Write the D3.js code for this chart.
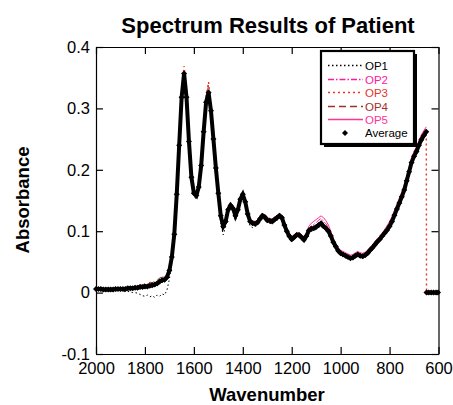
<!DOCTYPE html>
<html>
<meta charset="utf-8">
<title>Spectrum Results of Patient</title>
<script src="https://d3js.org/d3.v7.min.js"></script>
<style>
	body { margin: 0; background: #fff; }
	svg text { font-family: Arial, "Liberation Sans", Helvetica, sans-serif; }
</style>
<body>
<svg id="chart" width="453" height="405"></svg>

<script type="text/javascript">

// wavenumber grid, 2000 -> 650 every 10 cm-1
var wavenumbers = d3.range(2000, 649, -10);
// zero tail after the cut-off at 650 (only OP3 and the average carry it)
var tailWavenumbers = [649, 640, 630, 620, 610, 602];
var tailAbsorbance = [0, 0, 0, 0, 0, 0];

var op1 = [
	0.004, 0.004, 0.003, 0.003, 0.003, 0.003, 0.002, 0.002, 0.003, 0.003,
	0.003, 0.002, 0.002, 0.002, 0.001, 0.000, 0.000, -0.001, -0.003, -0.005,
	-0.006, -0.004, -0.007, -0.005, -0.008, -0.004, -0.006, -0.002, -0.004, 0.004,
	0.022, 0.050, 0.090, 0.155, 0.236, 0.315, 0.352, 0.313, 0.240, 0.182,
	0.156, 0.152, 0.167, 0.203, 0.258, 0.306, 0.322, 0.291, 0.244, 0.196,
	0.152, 0.112, 0.094, 0.108, 0.130, 0.138, 0.132, 0.117, 0.130, 0.148,
	0.156, 0.143, 0.122, 0.108, 0.106, 0.107, 0.110, 0.116, 0.121, 0.119,
	0.114, 0.113, 0.112, 0.115, 0.118, 0.121, 0.118, 0.105, 0.095, 0.087,
	0.083, 0.086, 0.090, 0.090, 0.086, 0.082, 0.088, 0.097, 0.100, 0.101,
	0.103, 0.106, 0.108, 0.104, 0.101, 0.096, 0.088, 0.078, 0.071, 0.065,
	0.061, 0.059, 0.057, 0.055, 0.053, 0.054, 0.057, 0.059, 0.057, 0.056,
	0.058, 0.061, 0.066, 0.070, 0.075, 0.080, 0.084, 0.089, 0.094, 0.099,
	0.105, 0.113, 0.123, 0.133, 0.143, 0.153, 0.164, 0.179, 0.194, 0.209,
	0.219, 0.227, 0.237, 0.246, 0.253, 0.259
];
var op2 = [
	0.007, 0.007, 0.007, 0.006, 0.006, 0.006, 0.006, 0.006, 0.007, 0.007,
	0.007, 0.007, 0.007, 0.008, 0.008, 0.008, 0.009, 0.009, 0.010, 0.010,
	0.011, 0.011, 0.012, 0.013, 0.014, 0.016, 0.019, 0.021, 0.022, 0.027,
	0.038, 0.060, 0.098, 0.163, 0.243, 0.321, 0.360, 0.321, 0.249, 0.191,
	0.165, 0.161, 0.175, 0.210, 0.265, 0.313, 0.329, 0.299, 0.253, 0.206,
	0.165, 0.128, 0.111, 0.119, 0.138, 0.145, 0.140, 0.128, 0.138, 0.155,
	0.163, 0.151, 0.131, 0.119, 0.116, 0.115, 0.117, 0.123, 0.128, 0.126,
	0.121, 0.120, 0.119, 0.122, 0.125, 0.128, 0.125, 0.113, 0.103, 0.095,
	0.090, 0.093, 0.097, 0.097, 0.093, 0.089, 0.095, 0.105, 0.109, 0.111,
	0.114, 0.118, 0.121, 0.116, 0.112, 0.106, 0.097, 0.086, 0.078, 0.071,
	0.067, 0.065, 0.063, 0.061, 0.059, 0.060, 0.063, 0.065, 0.063, 0.062,
	0.064, 0.067, 0.072, 0.076, 0.081, 0.086, 0.090, 0.095, 0.100, 0.106,
	0.112, 0.120, 0.130, 0.140, 0.150, 0.160, 0.171, 0.186, 0.201, 0.216,
	0.226, 0.234, 0.244, 0.253, 0.261, 0.267
];
var op3 = [
	0.006, 0.007, 0.006, 0.006, 0.005, 0.006, 0.005, 0.006, 0.007, 0.006,
	0.007, 0.006, 0.007, 0.008, 0.008, 0.007, 0.009, 0.009, 0.010, 0.011,
	0.012, 0.011, 0.013, 0.014, 0.015, 0.017, 0.020, 0.022, 0.024, 0.028,
	0.040, 0.062, 0.099, 0.165, 0.247, 0.327, 0.369, 0.326, 0.252, 0.192,
	0.164, 0.159, 0.174, 0.211, 0.268, 0.320, 0.343, 0.304, 0.254, 0.205,
	0.163, 0.126, 0.109, 0.118, 0.137, 0.145, 0.139, 0.126, 0.137, 0.155,
	0.163, 0.150, 0.129, 0.117, 0.114, 0.113, 0.115, 0.121, 0.126, 0.124,
	0.119, 0.118, 0.117, 0.120, 0.123, 0.126, 0.123, 0.111, 0.101, 0.093,
	0.088, 0.091, 0.095, 0.095, 0.091, 0.087, 0.093, 0.102, 0.105, 0.106,
	0.108, 0.111, 0.114, 0.109, 0.106, 0.101, 0.093, 0.083, 0.076, 0.069,
	0.065, 0.063, 0.061, 0.059, 0.057, 0.058, 0.061, 0.063, 0.061, 0.060,
	0.062, 0.065, 0.070, 0.074, 0.079, 0.084, 0.088, 0.093, 0.098, 0.103,
	0.109, 0.117, 0.127, 0.137, 0.147, 0.157, 0.168, 0.183, 0.198, 0.213,
	0.223, 0.231, 0.241, 0.250, 0.257, 0.263
];
var op4 = [
	0.007, 0.006, 0.007, 0.006, 0.006, 0.006, 0.006, 0.006, 0.007, 0.007,
	0.008, 0.007, 0.008, 0.009, 0.008, 0.009, 0.011, 0.010, 0.013, 0.012,
	0.015, 0.013, 0.017, 0.016, 0.019, 0.020, 0.024, 0.025, 0.026, 0.030,
	0.040, 0.061, 0.097, 0.162, 0.243, 0.322, 0.365, 0.322, 0.249, 0.190,
	0.163, 0.158, 0.173, 0.209, 0.265, 0.316, 0.338, 0.300, 0.252, 0.204,
	0.162, 0.124, 0.107, 0.116, 0.135, 0.142, 0.137, 0.125, 0.135, 0.152,
	0.160, 0.148, 0.128, 0.116, 0.113, 0.112, 0.114, 0.120, 0.125, 0.123,
	0.118, 0.117, 0.116, 0.119, 0.122, 0.125, 0.122, 0.110, 0.100, 0.092,
	0.087, 0.090, 0.094, 0.094, 0.090, 0.086, 0.092, 0.101, 0.104, 0.105,
	0.107, 0.110, 0.113, 0.108, 0.105, 0.100, 0.092, 0.082, 0.075, 0.068,
	0.063, 0.061, 0.059, 0.057, 0.055, 0.056, 0.059, 0.061, 0.059, 0.058,
	0.060, 0.063, 0.068, 0.072, 0.077, 0.082, 0.086, 0.091, 0.096, 0.101,
	0.107, 0.115, 0.125, 0.135, 0.145, 0.155, 0.166, 0.181, 0.196, 0.211,
	0.221, 0.229, 0.239, 0.248, 0.255, 0.261
];
var op5 = [
	0.007, 0.007, 0.007, 0.006, 0.006, 0.006, 0.006, 0.006, 0.007, 0.007,
	0.007, 0.007, 0.007, 0.008, 0.008, 0.008, 0.009, 0.009, 0.010, 0.010,
	0.011, 0.011, 0.012, 0.013, 0.014, 0.016, 0.019, 0.021, 0.022, 0.026,
	0.037, 0.059, 0.097, 0.162, 0.242, 0.320, 0.359, 0.320, 0.248, 0.190,
	0.164, 0.160, 0.174, 0.209, 0.264, 0.312, 0.328, 0.298, 0.252, 0.205,
	0.165, 0.129, 0.113, 0.121, 0.140, 0.147, 0.142, 0.130, 0.139, 0.156,
	0.164, 0.152, 0.132, 0.120, 0.117, 0.116, 0.118, 0.124, 0.129, 0.127,
	0.122, 0.121, 0.120, 0.123, 0.126, 0.129, 0.126, 0.114, 0.104, 0.096,
	0.091, 0.094, 0.098, 0.098, 0.094, 0.090, 0.097, 0.108, 0.113, 0.116,
	0.119, 0.122, 0.125, 0.122, 0.117, 0.110, 0.100, 0.088, 0.080, 0.073,
	0.069, 0.067, 0.065, 0.063, 0.061, 0.062, 0.065, 0.067, 0.065, 0.064,
	0.066, 0.069, 0.074, 0.078, 0.083, 0.088, 0.092, 0.097, 0.103, 0.109,
	0.116, 0.124, 0.134, 0.144, 0.154, 0.164, 0.175, 0.190, 0.205, 0.220,
	0.230, 0.238, 0.248, 0.257, 0.264, 0.270
];
var average = [
	0.006, 0.006, 0.006, 0.005, 0.005, 0.005, 0.005, 0.005, 0.006, 0.006,
	0.006, 0.006, 0.006, 0.007, 0.007, 0.007, 0.008, 0.008, 0.009, 0.009,
	0.010, 0.010, 0.011, 0.012, 0.013, 0.015, 0.018, 0.020, 0.021, 0.025,
	0.036, 0.058, 0.095, 0.160, 0.240, 0.318, 0.357, 0.318, 0.246, 0.188,
	0.162, 0.158, 0.172, 0.207, 0.262, 0.310, 0.326, 0.296, 0.250, 0.203,
	0.162, 0.125, 0.108, 0.116, 0.135, 0.142, 0.137, 0.125, 0.135, 0.152,
	0.160, 0.148, 0.128, 0.116, 0.113, 0.112, 0.114, 0.120, 0.125, 0.123,
	0.118, 0.117, 0.116, 0.119, 0.122, 0.125, 0.122, 0.110, 0.100, 0.092,
	0.087, 0.090, 0.094, 0.094, 0.090, 0.086, 0.092, 0.101, 0.104, 0.105,
	0.107, 0.110, 0.113, 0.108, 0.105, 0.100, 0.092, 0.082, 0.075, 0.068,
	0.064, 0.062, 0.060, 0.058, 0.056, 0.057, 0.060, 0.062, 0.060, 0.059,
	0.061, 0.064, 0.069, 0.073, 0.078, 0.083, 0.087, 0.092, 0.097, 0.102,
	0.108, 0.116, 0.126, 0.136, 0.146, 0.156, 0.167, 0.182, 0.197, 0.212,
	0.222, 0.230, 0.240, 0.249, 0.256, 0.262
];

var seriesNames = ["OP1", "OP2", "OP3", "OP4", "OP5"];
var seriesColors = ["#000000", "#ff1a9c", "#e8352b", "#a0302d", "#ff3399"];
var seriesDashes = ["1.5,2.5", "6,2,1.5,2", "2,3", "7,4", null];
var seriesHasTail = [false, false, true, false, false];

var xTicks = [2000, 1800, 1600, 1400, 1200, 1000, 800, 600];
var yTicks = [-0.1, 0, 0.1, 0.2, 0.3, 0.4];
var yTickLabels = ["-0.1", "0", "0.1", "0.2", "0.3", "0.4"];

var svg = d3.select("#chart");
var plotLeft = 96, plotRight = 438.5, plotTop = 47, plotBottom = 354;

var x = d3.scaleLinear().domain([2000, 600]).range([plotLeft, plotRight]);
var y = d3.scaleLinear().domain([-0.1, 0.4]).range([plotBottom, plotTop]);

function toPoints(vals, withTail) {
	var pts = wavenumbers.map(function(w, i){ return [w, vals[i]]; });
	if (withTail) {
		tailWavenumbers.forEach(function(w, i){ pts.push([w, tailAbsorbance[i]]); });
	}
	return pts;
}

var line = d3.line()
	.x(function(d){ return x(d[0]); })
	.y(function(d){ return y(d[1]); });

// draw order puts the dotted red one on top
var allOps = [op1, op2, op3, op4, op5];
var drawOrder = [4, 1, 3, 0, 2];
drawOrder.forEach(function(i){
	svg.append("path")
		.datum(toPoints(allOps[i], seriesHasTail[i]))
		.attr("d", line)
		.attr("fill", "none")
		.attr("stroke", seriesColors[i])
		.attr("stroke-width", i == 2 ? 1.4 : 1)
		.attr("stroke-dasharray", seriesDashes[i]);
});

// average: thick trace + diamond markers (trace broken at the cut-off)
var avgMain = toPoints(average, false);
var avgTail = tailWavenumbers.map(function(w, i){ return [w, tailAbsorbance[i]]; });
[avgMain, avgTail].forEach(function(pts){
	svg.append("path")
		.datum(pts)
		.attr("d", line)
		.attr("fill", "none")
		.attr("stroke", "#000")
		.attr("stroke-width", 4);
});
var diamond = d3.symbol().type(d3.symbolSquare).size(18);
svg.append("g").selectAll("path")
	.data(avgMain.concat(avgTail))
	.enter().append("path")
	.attr("d", diamond)
	.attr("transform", function(d){ return "translate(" + x(d[0]) + "," + y(d[1]) + ") rotate(45)"; })
	.attr("fill", "#000");

// frame with inward ticks on all four sides
function styleAxis(g) {
	g.selectAll(".domain").attr("stroke", "#000").attr("stroke-width", 1.2);
	g.selectAll(".tick line").attr("stroke", "#000").attr("stroke-width", 1.2);
	g.selectAll(".tick text").attr("fill", "#000").style("font-size", "16.5px");
}
svg.append("g").attr("transform", "translate(0," + plotBottom + ")")
	.call(d3.axisBottom(x).tickValues(xTicks).tickSize(-7).tickSizeOuter(0).tickPadding(8).tickFormat(d3.format("d")))
	.call(styleAxis);
svg.append("g").attr("transform", "translate(0," + plotTop + ")")
	.call(d3.axisTop(x).tickValues(xTicks).tickSize(-7).tickSizeOuter(0).tickFormat(""))
	.call(styleAxis);
svg.append("g").attr("transform", "translate(" + plotLeft + ",0)")
	.call(d3.axisLeft(y).tickValues(yTicks).tickSize(-7).tickSizeOuter(0).tickPadding(6)
		.tickFormat(function(d, i){ return yTickLabels[i]; }))
	.call(styleAxis);
svg.append("g").attr("transform", "translate(" + plotRight + ",0)")
	.call(d3.axisRight(y).tickValues(yTicks).tickSize(-7).tickSizeOuter(0).tickFormat(""))
	.call(styleAxis);

// titles
svg.append("text")
	.attr("x", 268).attr("y", 33)
	.attr("text-anchor", "middle")
	.style("font-size", "22px").style("font-weight", "bold")
	.text("Spectrum Results of Patient");
svg.append("text")
	.attr("x", 267).attr("y", 401)
	.attr("text-anchor", "middle")
	.style("font-size", "18.5px").style("font-weight", "bold")
	.text("Wavenumber");
svg.append("text")
	.attr("transform", "translate(29,200) rotate(-90)")
	.attr("text-anchor", "middle")
	.style("font-size", "18.5px").style("font-weight", "bold")
	.text("Absorbance");

// legend
var lg = svg.append("g").attr("transform", "translate(321,51)");
lg.append("rect").attr("x", 3).attr("y", 3).attr("width", 93).attr("height", 93).attr("fill", "#000");
lg.append("rect").attr("x", 0).attr("y", 0).attr("width", 93).attr("height", 93)
	.attr("fill", "#fff").attr("stroke", "#000").attr("stroke-width", 2.2);

var rowY = d3.scaleLinear().domain([0, 5]).range([14, 82]);
seriesNames.forEach(function(name, i){
	var ry = Math.round(rowY(i)) + 0.5;
	lg.append("line")
		.attr("x1", 7).attr("x2", 42)
		.attr("y1", ry).attr("y2", ry)
		.attr("stroke", seriesColors[i])
		.attr("stroke-width", 1.3)
		.attr("stroke-dasharray", seriesDashes[i]);
	lg.append("text")
		.attr("x", 44).attr("y", ry).attr("dy", "0.36em")
		.attr("fill", seriesColors[i])
		.style("font-size", "11.5px")
		.text(name);
});
lg.append("path")
	.attr("d", diamond)
	.attr("transform", "translate(24," + rowY(5) + ") rotate(45)")
	.attr("fill", "#000");
lg.append("text")
	.attr("x", 44).attr("y", rowY(5)).attr("dy", "0.36em")
	.attr("fill", "#000")
	.style("font-size", "11.5px")
	.text("Average");

</script>
</body>
</html>
